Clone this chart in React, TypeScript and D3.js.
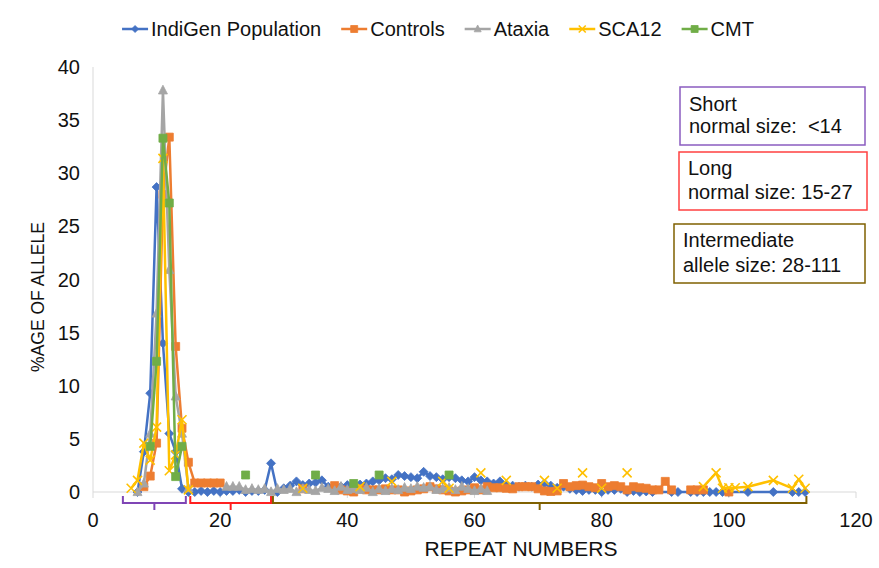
import React from "react";
import * as d3 from "d3";

type Pt = [number, number | null];

const xTicks = [0, 20, 40, 60, 80, 100, 120];
const yTicks = [0, 5, 10, 15, 20, 25, 30, 35, 40];

const seriesNames = ["IndiGen Population", "Controls", "Ataxia", "SCA12", "CMT"];
const seriesColors = ["#4472C4", "#ED7D31", "#A5A5A5", "#FFC000", "#70AD47"];
const seriesMarkers = ["diamond", "square", "triangle", "x", "square"];

const indigen: Pt[] = [
  [7, 0], [8, 3.8], [9, 9.3], [10, 28.7], [11, 14], [12, 5.5], [13, 3.8], [14, 0.3], [15, 0], [16, 0],
  [17, 0.1], [18, 0], [19, 0.1], [20, 0], [21, 0.1], [22, 0.1], [23, 0.2], [24, 0], [25, 0.1], [26, 0.1],
  [27, 0.2], [28, 2.7], [29, 0], [30, 0.35], [31, 0.6], [32, 1.0], [33, 0.65], [34, 0.8], [35, 0.9], [36, 1.1],
  [37, 0.5], [38, 0.5], [39, 0.5], [40, 0.65], [41, 0.6], [42, 0.7], [43, 0.8], [44, 1.0], [45, 1.1], [46, 1.3],
  [47, 1.2], [48, 1.6], [49, 1.5], [50, 1.4], [51, 1.3], [52, 1.9], [53, 1.5], [54, 1.4], [55, 1.2], [56, 1.4],
  [57, 1.3], [58, 1.1], [59, 1.0], [60, 1.4], [61, 1.1], [62, 1.0], [63, 0.8], [64, 1.0], [65, 0.7], [66, 0.6],
  [67, 0.5], [68, 0.6], [69, 0.5], [70, 0.7], [71, 0.8], [72, 0.6], [73, 0.4], [74, 0.5], [75, 0.3], [76, 0.2],
  [77, 0.1], [78, 0.2], [79, 0.2], [80, 0], [81, 0.2], [82, 0.2], [83, 0.3], [84, 0], [85, 0.1], [86, 0],
  [87, 0.05], [88, 0], [91, 0], [92, 0], [94, 0], [95, 0], [96, 0], [97, 0], [98, 0], [99, 0], [100, 0],
  [103, 0], [107, 0], [110, 0], [111, 0], [112, 0],
];

const controls: Pt[] = [
  [8, 0.5], [9, 1.5], [10, 4.6], [11, 28], [12, 33.4], [13, 13.7], [14, 6.0], [15, 2.8], [16, 0.85], [17, 0.85],
  [18, 0.85], [19, 0.85], [20, 0.85], [21, null], [33, 0.3], [34, null],
  [38, 0.6], [39, 0.2], [40, 0.1], [41, 0], [42, 0.3], [43, 0.2], [44, 0.2], [45, 0.2], [46, 0.3], [47, 0.2],
  [48, 0.2], [49, 0], [50, 0.1], [51, 0.2], [52, 0.3], [53, 0.5], [54, 0.3], [55, 0.2], [56, 0.1], [57, 0],
  [58, 0.1], [59, 0.2], [60, 0.4], [61, 0.2], [62, 0.5], [63, 0.4], [64, 0.4], [65, 0.35], [66, 0.3], [67, 0.5],
  [68, 0.5], [69, 0.5], [70, 0.3], [71, 0.1], [72, 0.05], [73, 0.1], [74, 0.8], [75, 0.5], [76, 0.6], [77, 0.65],
  [78, 0.5], [79, 0.4], [80, 0.8], [81, 0.5], [82, 0.6], [83, 0.5], [84, 0.2], [85, 0.5], [86, 0.4], [87, 0.35],
  [88, 0.2], [89, 0.2], [90, 1.0], [91, 0.2], [92, null], [94, 0.2], [95, 0.2], [96, 0.2], [97, null], [100, 0],
];

const ataxia: Pt[] = [
  [7, 0], [8, 0.8], [9, 5.5], [10, 16.8], [11, 37.8], [12, 20.9], [13, 9], [14, 5.5], [15, 0.35], [16, null],
  [21, 0.5], [22, 0.5], [23, 0.5], [24, 0.2], [25, 0.3], [26, 0.2], [27, 0.3], [28, 0], [29, 0.3], [30, 0.2],
  [31, 0.3], [32, 0], [33, 0.3], [34, 0.2], [35, 0.1], [36, 0.4], [37, 0.3], [38, 0.1], [39, 0.5], [40, 0.2],
  [41, 0.3], [42, 0.2], [43, 0.4], [44, 0], [45, 0.3], [46, 0.1], [47, 0.3], [48, 0.2], [49, 0.4], [50, 0.3],
  [51, 0.5], [52, 0.4], [53, 0.5], [54, 0.2], [55, 0.3], [56, 0.4], [57, 0.2], [58, 0.5], [59, 0.3], [60, 0.1],
  [61, 0.3], [62, 0.1],
];

const sca12: Pt[] = [
  [6, 0.35], [7, 1.1], [8, 4.6], [9, 3.0], [10, 6.1], [11, 31.4], [12, 2.0], [13, 3.5], [14, 6.8], [15, 0.2],
  [16, null], [33, 0.35], [34, null], [42, 0.5], [43, null], [47, 1.0], [48, null], [55, 1.0], [56, 0.35],
  [57, null], [61, 1.8], [62, null], [65, 1.1], [66, null], [71, 1.1], [72, null], [73, 0.35], [74, null],
  [77, 1.8], [78, null], [80, 0.35], [81, null], [84, 1.8], [85, null], [96, 0.5], [98, 1.8], [99, 0.35],
  [100, 0.4], [101, 0.4], [103, 0.5], [107, 1.1], [110, 0.35], [111, 1.2], [112, 0.35],
];

const cmt: Pt[] = [
  [9, 4.3], [10, 12.3], [11, 33.3], [12, 27.2], [13, 1.45], [14, 4.3], [15, null], [24, 1.6], [25, null],
  [35, 1.6], [36, null], [41, 0.8], [42, null], [45, 1.6], [46, null], [56, 1.6],
];

const seriesData = [indigen, controls, ataxia, sca12, cmt];

const bracketRanges: [number, number][] = [[4.7, 14.6], [15.3, 28], [28.3, 112.2]];
const bracketColors = ["#7F45B5", "#FF2020", "#7F6000"];

const noteLines = [
  ["Short", "normal size:  <14"],
  ["Long", "normal size: 15-27"],
  ["Intermediate", "allele size: 28-111"],
];
const noteColors = ["#8A5CC0", "#FF4040", "#7F6000"];

const W = 879;
const H = 568;
const FONT = "'Liberation Sans', Arial, sans-serif";

if (typeof document !== "undefined") {
  document.body.style.margin = "0";
}

function markerPath(kind: string, r: number): string {
  switch (kind) {
    case "diamond":
      return `M0,${-r}L${r},0L0,${r}L${-r},0Z`;
    case "square":
      return `M${-r},${-r}H${r}V${r}H${-r}Z`;
    case "triangle":
      return `M0,${-r * 1.15}L${r},${r * 0.8}L${-r},${r * 0.8}Z`;
    default:
      return `M${-r},${-r}L${r},${r}M${r},${-r}L${-r},${r}`;
  }
}

function measure(text: string, size: number): number {
  const c = document.createElement("canvas").getContext("2d");
  if (!c) return text.length * size * 0.55;
  c.font = `${size}px 'Liberation Sans', Arial, sans-serif`;
  return c.measureText(text).width;
}

function Marker({ kind, color, x, y, r }: { kind: string; color: string; x: number; y: number; r: number }) {
  const isX = kind === "x";
  return (
    <path
      d={markerPath(kind, r)}
      transform={`translate(${x},${y})`}
      fill={isX ? "none" : color}
      stroke={color}
      strokeWidth={isX ? 1.6 : 0.8}
    />
  );
}

export default function App() {
  const x = d3.scaleLinear().domain([0, 120]).range([93, 856]);
  const y = d3.scaleLinear().domain([0, 40]).range([492, 67]);
  const line = d3
    .line<Pt>()
    .defined((d) => d[1] !== null)
    .x((d) => x(d[0]))
    .y((d) => y(d[1] as number));

  // legend layout
  const legendFont = 20;
  const symW = 26;
  const textGap = 3;
  const itemGap = 20;
  const widths = seriesNames.map((n) => measure(n, legendFont));
  const total = widths.reduce((a, b) => a + b, 0) + seriesNames.length * (symW + textGap) + (seriesNames.length - 1) * itemGap;
  let lx = 438 - total / 2;
  const legendItems = seriesNames.map((n, i) => {
    const item = { name: n, x: lx, color: seriesColors[i], marker: seriesMarkers[i] };
    lx += symW + textGap + widths[i] + itemGap;
    return item;
  });
  const legendY = 29;

  const boxes = [
    { x0: 680, x1: 865, y0: 87, y1: 145, tx: 689, b1: 111, b2: 133 },
    { x0: 679, x1: 867, y0: 152, y1: 210, tx: 688, b1: 175, b2: 199 },
    { x0: 674, x1: 865, y0: 224, y1: 283, tx: 683, b1: 247, b2: 272 },
  ];

  return (
    <svg width={W} height={H} style={{ display: "block", background: "#fff" }} fontFamily={FONT}>
      <rect x={0} y={0} width={W} height={H} fill="#fff" />
      {/* axes */}
      <line x1={x(0)} x2={x(0)} y1={y(40)} y2={y(0)} stroke="#D9D9D9" strokeWidth={1} />
      <line x1={x(0)} x2={x(120)} y1={y(0)} y2={y(0)} stroke="#D9D9D9" strokeWidth={1} />
      {xTicks.map((t) => (
        <g key={"xt" + t}>
          <line x1={x(t)} x2={x(t)} y1={y(0)} y2={y(0) + 6} stroke="#D9D9D9" strokeWidth={1} />
          <text x={x(t)} y={527} textAnchor="middle" fontSize={20} fill="#111">
            {t}
          </text>
        </g>
      ))}
      {yTicks.map((t) => (
        <text key={"yt" + t} x={80} y={y(t) + 7} textAnchor="end" fontSize={20} fill="#111">
          {t}
        </text>
      ))}
      <text x={521} y={556} textAnchor="middle" fontSize={21} fill="#111">
        REPEAT NUMBERS
      </text>
      <text transform={`translate(44,297) rotate(-90)`} textAnchor="middle" fontSize={17.5} fill="#111">
        %AGE OF ALLELE
      </text>

      {/* brackets */}
      {bracketRanges.map((r, i) => {
        const a = x(r[0]);
        const b = x(r[1]);
        const m = (a + b) / 2;
        return (
          <g key={"br" + i} stroke={bracketColors[i]} strokeWidth={2} fill="none">
            <path d={`M${a},496V503H${b}V496`} />
            <path d={`M${m},503V510`} />
          </g>
        );
      })}

      {/* series */}
      {seriesData.map((data, i) => (
        <g key={"s" + i}>
          <path d={line(data) || ""} fill="none" stroke={seriesColors[i]} strokeWidth={2.5} strokeLinejoin="round" />
          {data
            .filter((d) => d[1] !== null)
            .map((d, j) => (
              <Marker key={j} kind={seriesMarkers[i]} color={seriesColors[i]} x={x(d[0])} y={y(d[1] as number)} r={seriesMarkers[i] === "square" ? 4 : 4.5} />
            ))}
        </g>
      ))}

      {/* legend */}
      {legendItems.map((it, i) => (
        <g key={"lg" + i}>
          <line x1={it.x} x2={it.x + symW} y1={legendY} y2={legendY} stroke={it.color} strokeWidth={2.5} />
          <Marker kind={it.marker} color={it.color} x={it.x + symW / 2} y={legendY} r={3.5} />
          <text x={it.x + symW + textGap} y={legendY + 7} fontSize={legendFont} fill="#111">
            {it.name}
          </text>
        </g>
      ))}

      {/* annotation boxes */}
      {boxes.map((b, i) => (
        <g key={"bx" + i}>
          <rect x={b.x0} y={b.y0} width={b.x1 - b.x0} height={b.y1 - b.y0} fill="#fff" stroke={noteColors[i]} strokeWidth={1.5} />
          <text x={b.tx} y={b.b1} fontSize={20} fill="#111" style={{ whiteSpace: "pre" }}>
            {noteLines[i][0]}
          </text>
          <text x={b.tx} y={b.b2} fontSize={20} fill="#111" style={{ whiteSpace: "pre" }}>
            {noteLines[i][1]}
          </text>
        </g>
      ))}
    </svg>
  );
}
